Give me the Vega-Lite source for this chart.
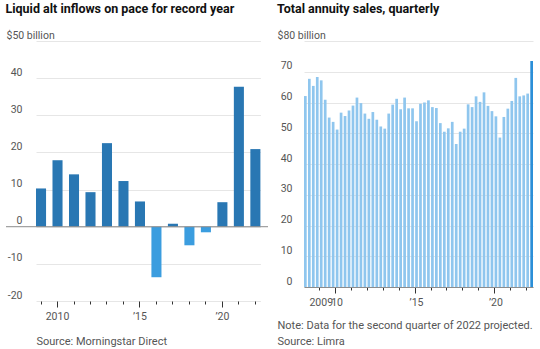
{
  "$schema": "https://vega.github.io/schema/vega-lite/v6.json",
  "padding": {"left": 5, "top": 2, "right": 0, "bottom": 0},
  "background": "white",
  "spacing": 6,
  "config": {
    "font": "Roboto",
    "view": {"stroke": null},
    "axis": {
      "labelFont": "Roboto",
      "titleFont": "Roboto",
      "labelFontSize": 10.5,
      "labelColor": "#555555",
      "gridColor": "#e6e6e6",
      "tickColor": "#333333"
    },
    "title": {"font": "Roboto", "fontSize": 12.5, "fontWeight": "bold", "color": "#111111", "anchor": "start", "offset": 15}
  },
  "hconcat": [
    {
      "title": {"text": "Liquid alt inflows on pace for record year"},
      "width": 262,
      "height": 260,
      "encoding": {
        "y": {
          "field": "value", "type": "quantitative",
          "scale": {"domain": [-20, 50], "nice": false, "zero": false},
          "axis": {
            "title": null,
            "values": [-20, -10, 0, 10, 20, 30, 40, 50],
            "grid": true, "domain": false, "ticks": false, "labelOverlap": false,
            "labelAlign": {"condition": {"test": "datum.value == 50", "value": "left"}, "value": "right"},
            "labelPadding": {"condition": {"test": "datum.value == 50", "value": 0}, "value": -16},
            "labelBaseline": "alphabetic", "labelOffset": -3,
            "labelExpr": "datum.value == 50 ? '$50 billion' : '' + datum.value"
          }
        }
      },
      "layer": [
        {
          "data": {"values": [
            {"year": 2009, "value": 10.3},
            {"year": 2010, "value": 17.9},
            {"year": 2011, "value": 14.1},
            {"year": 2012, "value": 9.3},
            {"year": 2013, "value": 22.5},
            {"year": 2014, "value": 12.3},
            {"year": 2015, "value": 6.8},
            {"year": 2016, "value": -13.6},
            {"year": 2017, "value": 0.8},
            {"year": 2018, "value": -5.0},
            {"year": 2019, "value": -1.5},
            {"year": 2020, "value": 6.6},
            {"year": 2021, "value": 37.7},
            {"year": 2022, "value": 20.9}
          ]},
          "mark": {"type": "bar"},
          "encoding": {
            "x": {
              "field": "year", "type": "ordinal",
              "scale": {"paddingInner": 0.39, "paddingOuter": 0, "rangeMin": 30, "rangeMax": 254.4},
              "axis": {
                "title": "Source: Morningstar Direct",
                "titleAnchor": "start", "titleAlign": "left", "titleFontSize": 11, "titleFontWeight": "normal", "titleColor": "#555555", "titlePadding": 13.5,
                "domain": false, "grid": false, "labelAngle": 0, "labelOverlap": false,
                "labelExpr": "datum.value == 2010 ? '2010' : datum.value == 2015 ? '’15' : datum.value == 2020 ? '’20' : ''",
                "tickSize": {"condition": {"test": "datum.value == 2010 || datum.value == 2015 || datum.value == 2020", "value": 6}, "value": 3},
                "labelPadding": 4
              }
            },
            "color": {"condition": {"test": "datum.value < 0", "value": "#3b9ddf"}, "value": "#2977b3"}
          }
        },
        {
          "data": {"values": [{"value": 0}]},
          "mark": {"type": "rule", "color": "#8c8c8c", "strokeWidth": 1},
          "encoding": {}
        }
      ]
    },
    {
      "title": {"text": "Total annuity sales, quarterly", "dx": 2},
      "width": 262,
      "height": 246,
      "data": {"values": [
        {"q": "2008Q1", "v": 62.1}, {"q": "2008Q2", "v": 67.7}, {"q": "2008Q3", "v": 65.4}, {"q": "2008Q4", "v": 68.3},
        {"q": "2009Q1", "v": 67.2}, {"q": "2009Q2", "v": 60.9}, {"q": "2009Q3", "v": 55.1}, {"q": "2009Q4", "v": 53.7},
        {"q": "2010Q1", "v": 51.2}, {"q": "2010Q2", "v": 56.7}, {"q": "2010Q3", "v": 55.6}, {"q": "2010Q4", "v": 57.4},
        {"q": "2011Q1", "v": 59.0}, {"q": "2011Q2", "v": 61.6}, {"q": "2011Q3", "v": 59.8}, {"q": "2011Q4", "v": 56.4},
        {"q": "2012Q1", "v": 54.7}, {"q": "2012Q2", "v": 56.9}, {"q": "2012Q3", "v": 54.4}, {"q": "2012Q4", "v": 52.2},
        {"q": "2013Q1", "v": 51.5}, {"q": "2013Q2", "v": 56.4}, {"q": "2013Q3", "v": 59.3}, {"q": "2013Q4", "v": 61.2},
        {"q": "2014Q1", "v": 57.8}, {"q": "2014Q2", "v": 61.6}, {"q": "2014Q3", "v": 58.1}, {"q": "2014Q4", "v": 58.1},
        {"q": "2015Q1", "v": 53.9}, {"q": "2015Q2", "v": 59.6}, {"q": "2015Q3", "v": 60.0}, {"q": "2015Q4", "v": 60.7},
        {"q": "2016Q1", "v": 58.5}, {"q": "2016Q2", "v": 58.2}, {"q": "2016Q3", "v": 53.3}, {"q": "2016Q4", "v": 50.5},
        {"q": "2017Q1", "v": 51.6}, {"q": "2017Q2", "v": 53.7}, {"q": "2017Q3", "v": 46.5}, {"q": "2017Q4", "v": 50.5},
        {"q": "2018Q1", "v": 51.5}, {"q": "2018Q2", "v": 59.4}, {"q": "2018Q3", "v": 58.5}, {"q": "2018Q4", "v": 62.0},
        {"q": "2019Q1", "v": 60.2}, {"q": "2019Q2", "v": 63.3}, {"q": "2019Q3", "v": 58.9}, {"q": "2019Q4", "v": 57.2},
        {"q": "2020Q1", "v": 55.5}, {"q": "2020Q2", "v": 48.6}, {"q": "2020Q3", "v": 55.3}, {"q": "2020Q4", "v": 58.0},
        {"q": "2021Q1", "v": 60.5}, {"q": "2021Q2", "v": 68.0}, {"q": "2021Q3", "v": 62.0}, {"q": "2021Q4", "v": 62.3},
        {"q": "2022Q1", "v": 62.9}, {"q": "2022Q2", "v": 73.5}
      ]},
      "mark": {"type": "bar"},
      "encoding": {
        "x": {
          "field": "q", "type": "ordinal",
          "scale": {"paddingInner": 0.32, "paddingOuter": 0, "rangeMin": 29, "rangeMax": 258},
          "axis": {
            "title": ["Note: Data for the second quarter of 2022 projected.", "Source: Limra"],
            "titleAnchor": "start", "titleAlign": "left", "titleFontSize": 11, "titleFontWeight": "normal", "titleColor": "#555555", "titlePadding": 12, "titleLineHeight": 16, "titleX": 2,
            "values": ["2009Q1", "2010Q1", "2011Q1", "2012Q1", "2013Q1", "2014Q1", "2015Q1", "2016Q1", "2017Q1", "2018Q1", "2019Q1", "2020Q1", "2021Q1", "2022Q1"],
            "bandPosition": 0,
            "domain": true, "domainColor": "#8c8c8c", "grid": false, "labelAngle": 0, "labelOverlap": false,
            "labelExpr": "datum.value == '2009Q1' ? '2009' : datum.value == '2010Q1' ? '10' : datum.value == '2015Q1' ? '’15' : datum.value == '2020Q1' ? '’20' : ''",
            "tickSize": {"condition": {"test": "datum.value == '2010Q1' || datum.value == '2015Q1' || datum.value == '2020Q1'", "value": 6}, "value": 3},
            "labelPadding": {"condition": {"test": "datum.value == '2009Q1'", "value": 7}, "value": 4}
          }
        },
        "y": {
          "field": "v", "type": "quantitative",
          "scale": {"domain": [0, 80], "nice": false},
          "axis": {
            "title": null,
            "values": [0, 10, 20, 30, 40, 50, 60, 70, 80],
            "grid": true, "domain": false, "ticks": false, "labelOverlap": false,
            "labelAlign": {"condition": {"test": "datum.value == 80", "value": "left"}, "value": "right"},
            "labelPadding": {"condition": {"test": "datum.value == 80", "value": -2}, "value": -17},
            "labelBaseline": "alphabetic", "labelOffset": -3,
            "labelExpr": "datum.value == 80 ? '$80 billion' : '' + datum.value"
          }
        },
        "color": {"condition": {"test": "datum.q == '2022Q2'", "value": "#2b8fd8"}, "value": "#8fc6ee"}
      }
    }
  ]
}
